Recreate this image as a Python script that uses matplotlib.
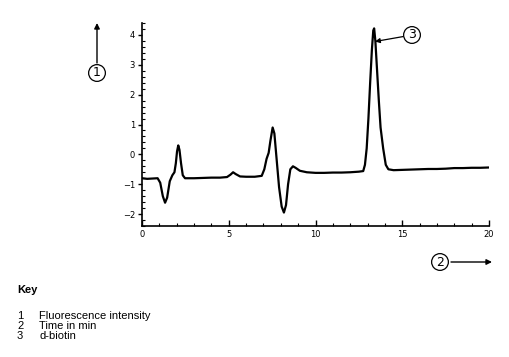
import matplotlib
matplotlib.use("Agg")
import matplotlib.pyplot as plt
from matplotlib.ticker import MultipleLocator

# chromatogram trace: time (min), fluorescence intensity
time_min = [0.0, 0.3, 0.6, 0.9, 1.05, 1.2, 1.33, 1.45, 1.6, 1.75, 1.87, 1.95,
            2.02, 2.09, 2.16, 2.25, 2.35, 2.48, 3.0, 3.5, 4.0, 4.5, 4.9, 5.1,
            5.25, 5.4, 5.65, 6.0, 6.5, 6.9, 7.05, 7.18, 7.3, 7.4, 7.53, 7.63,
            7.75, 7.9, 8.05, 8.18, 8.3, 8.42, 8.55, 8.7, 8.85, 9.1, 9.5, 10.0,
            10.5, 11.0, 11.5, 12.0, 12.5, 12.75, 12.85, 12.95, 13.05, 13.15,
            13.25, 13.33, 13.38, 13.45, 13.55, 13.65, 13.75, 13.9, 14.05, 14.2,
            14.5, 15.0, 15.5, 16.0, 16.5, 17.0, 17.5, 18.0, 18.5, 19.0, 19.5, 20.0]
signal = [-0.80, -0.82, -0.81, -0.80, -0.95, -1.40, -1.62, -1.45, -0.90, -0.70,
          -0.60, -0.30, 0.10, 0.30, 0.15, -0.30, -0.70, -0.80, -0.80, -0.79,
          -0.78, -0.78, -0.76, -0.68, -0.60, -0.66, -0.74, -0.75, -0.75, -0.72,
          -0.50, -0.15, 0.05, 0.45, 0.90, 0.70, -0.10, -1.10, -1.75, -1.95,
          -1.70, -1.00, -0.50, -0.40, -0.45, -0.55, -0.60, -0.62, -0.62, -0.61,
          -0.61, -0.60, -0.58, -0.56, -0.35, 0.20, 1.20, 2.40, 3.50, 4.15,
          4.22, 3.80, 2.80, 1.80, 0.90, 0.20, -0.35, -0.50, -0.53, -0.52,
          -0.51, -0.50, -0.49, -0.49, -0.48, -0.46, -0.46, -0.45, -0.45, -0.44]

x_ticks = [0, 5, 10, 15, 20]
y_ticks = [-2, -1, 0, 1, 2, 3, 4]
biotin_peak = (13.43, 3.78)

key_items = [("1", "Fluorescence intensity"), ("2", "Time in min"), ("3", "d-biotin")]

W, H = 509, 357
fig = plt.figure(figsize=(W / 100, H / 100), dpi=100)
ax = fig.add_axes([142 / W, 1 - 226 / H, (489 - 142) / W, (226 - 23) / H])

ax.plot(time_min, signal, color="black", lw=1.6)
ax.set_xlim(0, 20)
ax.set_ylim(-2.4, 4.4)

for s in ["top", "right"]:
    ax.spines[s].set_visible(False)
for s in ["left", "bottom"]:
    ax.spines[s].set_linewidth(1.2)

ax.set_xticks(x_ticks)
ax.set_yticks(y_ticks)
ax.xaxis.set_minor_locator(MultipleLocator(1))
ax.yaxis.set_minor_locator(MultipleLocator(0.2))
ax.tick_params(axis="x", which="major", direction="in", length=4, width=1, labelsize=6, pad=3)
ax.tick_params(axis="x", which="minor", direction="in", length=2.5, width=0.8)
ax.tick_params(axis="y", which="major", direction="out", length=3, width=1, labelsize=6, pad=2)
ax.tick_params(axis="y", which="minor", direction="in", length=2, width=0.8)

circ = dict(boxstyle="circle,pad=0.15", fc="white", ec="black", lw=0.9)

# axis labels as circled numbers with arrows
fig.text(97 / W, 1 - 73 / H, "1", ha="center", va="center", fontsize=9, bbox=circ)
ax.annotate("", xy=(97 / W, 1 - 23 / H), xytext=(97 / W, 1 - 63 / H),
            xycoords="figure fraction", textcoords="figure fraction",
            arrowprops=dict(arrowstyle="-|>", color="black", lw=1, mutation_scale=8,
                            shrinkA=0, shrinkB=0))

fig.text(440 / W, 1 - 262 / H, "2", ha="center", va="center", fontsize=9, bbox=circ)
ax.annotate("", xy=(492 / W, 1 - 262 / H), xytext=(451 / W, 1 - 262 / H),
            xycoords="figure fraction", textcoords="figure fraction",
            arrowprops=dict(arrowstyle="-|>", color="black", lw=1, mutation_scale=8,
                            shrinkA=0, shrinkB=0))

ax.annotate("3", xy=biotin_peak, xytext=(412 / W, 1 - 35 / H),
            textcoords="figure fraction", ha="center", va="center", fontsize=9, bbox=circ,
            arrowprops=dict(arrowstyle="-|>", color="black", lw=0.9, mutation_scale=7,
                            shrinkA=0, shrinkB=0))

# key below the chart
fig.text(17 / W, 1 - 290 / H, "Key", fontsize=8, fontweight="bold",
         family="Liberation Sans", va="center")
for i, (num, label) in enumerate(key_items):
    y = 1 - (316 + 10 * i) / H
    fig.text(17 / W, y, num, fontsize=8, family="Liberation Sans", va="center")
    fig.text(39 / W, y, label, fontsize=8, family="Liberation Sans", va="center")

fig.savefig("out.png", dpi=100)
